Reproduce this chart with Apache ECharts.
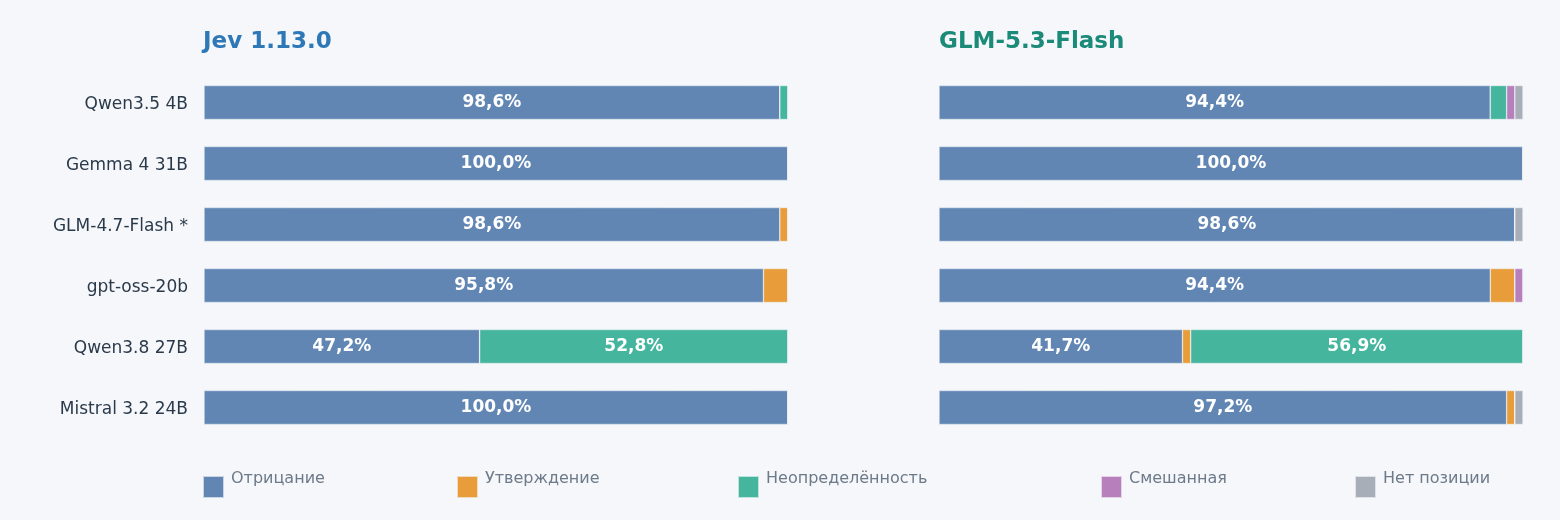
<!DOCTYPE html>
<html>
<head>
<meta charset="utf-8">
<script src="https://cdn.jsdelivr.net/npm/echarts@6/dist/echarts.min.js"></script>
<style>
  html, body { margin: 0; padding: 0; background: #f5f7fa; }
  #chart { width: 1560px; height: 520px; }
</style>
</head>
<body>
<div id="chart"></div>
<script>
const models = ['Qwen3.5 4B', 'Gemma 4 31B', 'GLM-4.7-Flash *', 'gpt-oss-20b', 'Qwen3.8 27B', 'Mistral 3.2 24B']
const stances = ['Отрицание', 'Утверждение', 'Неопределённость', 'Смешанная', 'Нет позиции']
const colors = ['#6186b3', '#e89c3a', '#45b59e', '#b77fbb', '#a8aeb8']

// Jev 1.13.0, % per stance
const jevNeg = [98.6, 100, 98.6, 95.8, 47.2, 100]
const jevAff = [0, 0, 1.4, 4.2, 0, 0]
const jevUnc = [1.4, 0, 0, 0, 52.8, 0]
const jevMix = [0, 0, 0, 0, 0, 0]
const jevNone = [0, 0, 0, 0, 0, 0]

// GLM-5.3-Flash, % per stance
const glmNeg = [94.4, 100, 98.6, 94.4, 41.7, 97.2]
const glmAff = [0, 0, 0, 4.2, 1.4, 1.4]
const glmUnc = [2.8, 0, 0, 0, 56.9, 0]
const glmMix = [1.4, 0, 0, 1.4, 0, 0]
const glmNone = [1.4, 0, 1.4, 0, 0, 1.4]

const legendLeft = [202, 456, 737, 1100, 1354]

const chart = echarts.init(document.getElementById('chart'))

function makeSeries(idx, lists) {
    return lists.map((vals, i) => ({
        name: stances[i],
        type: 'bar',
        stack: 'g' + idx,
        xAxisIndex: idx,
        yAxisIndex: idx,
        barWidth: 34,
        data: vals,
        itemStyle: { color: colors[i], borderColor: 'rgba(245,247,250,0.7)', borderWidth: 0.6 },
        label: {
            show: true,
            position: 'inside',
            color: '#ffffff',
            fontWeight: 'bold',
            fontSize: 17,
            fontFamily: 'DejaVu Sans',
            formatter: p => p.value >= 10 ? p.value.toFixed(1).replace('.', ',') + '%' : ''
        },
        emphasis: { disabled: true }
    }))
}

const grids = [
    { left: 204, top: 72, width: 584, height: 366 },
    { left: 939, top: 72, width: 584, height: 366 }
]

chart.setOption({
    backgroundColor: '#f5f7fa',
    textStyle: { fontFamily: 'DejaVu Sans' },
    animation: false,
    title: [
        { text: 'Jev 1.13.0', left: 203, top: 31, padding: 0,
          textStyle: { color: '#2f78b7', fontSize: 23, fontWeight: 'bold', fontFamily: 'DejaVu Sans' } },
        { text: 'GLM-5.3-Flash', left: 939, top: 31, padding: 0,
          textStyle: { color: '#1b8a78', fontSize: 23, fontWeight: 'bold', fontFamily: 'DejaVu Sans' } }
    ],
    legend: stances.map((s, i) => ({
        data: [s],
        left: legendLeft[i],
        top: 471,
        padding: 0,
        itemWidth: 21,
        itemHeight: 22,
        itemGap: 0,
        icon: 'rect',
        selectedMode: false,
        formatter: '{t|{name}}',
        textStyle: {
            rich: {
                t: { color: '#6c7a89', fontSize: 16, fontFamily: 'DejaVu Sans', padding: [0, 0, 16, 2] }
            }
        }
    })),
    grid: grids,
    xAxis: grids.map((g, i) => ({
        type: 'value', gridIndex: i, min: 0, max: 100, show: false
    })),
    yAxis: grids.map((g, i) => ({
        type: 'category',
        gridIndex: i,
        data: models,
        inverse: true,
        axisLine: { show: false },
        axisTick: { show: false },
        splitLine: { show: false },
        axisLabel: {
            show: i === 0,
            margin: 16,
            formatter: '{m|{value}}',
            rich: {
                m: { color: '#2b3a4a', fontSize: 17, fontFamily: 'DejaVu Sans', padding: [5, 0, 0, 0] }
            }
        }
    })),
    series: [
        ...makeSeries(0, [jevNeg, jevAff, jevUnc, jevMix, jevNone]),
        ...makeSeries(1, [glmNeg, glmAff, glmUnc, glmMix, glmNone])
    ]
})
</script>
</body>
</html>
